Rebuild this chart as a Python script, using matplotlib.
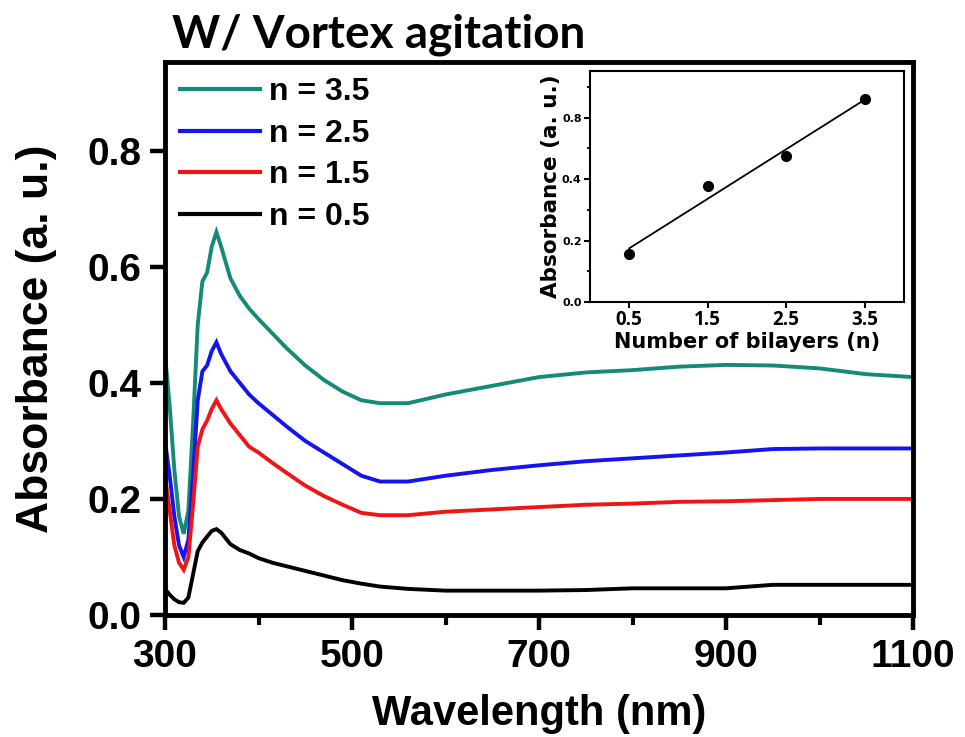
import numpy as np
import matplotlib
matplotlib.use("Agg")
import matplotlib.pyplot as plt
from matplotlib.ticker import MultipleLocator, FixedLocator

# ---------------- data ----------------
wavelength = [300, 305, 310, 315, 320, 325, 330, 335, 340, 345, 350, 355, 360, 370, 380,
              390, 400, 415, 430, 450, 470, 490, 510, 530, 560, 600, 650, 700, 750, 800,
              850, 900, 950, 1000, 1050, 1100]
abs_n35 = [0.45, 0.36, 0.25, 0.17, 0.14, 0.18, 0.33, 0.50, 0.575, 0.59, 0.635, 0.66, 0.635,
           0.58, 0.55, 0.528, 0.51, 0.485, 0.46, 0.43, 0.405, 0.385, 0.37, 0.365, 0.365,
           0.38, 0.395, 0.41, 0.418, 0.422, 0.428, 0.431, 0.43, 0.425, 0.415, 0.41]
abs_n25 = [0.30, 0.24, 0.17, 0.12, 0.10, 0.13, 0.24, 0.37, 0.42, 0.43, 0.455, 0.47, 0.45,
           0.42, 0.40, 0.38, 0.365, 0.345, 0.325, 0.30, 0.28, 0.26, 0.24, 0.23, 0.23,
           0.24, 0.25, 0.258, 0.265, 0.27, 0.275, 0.28, 0.286, 0.287, 0.287, 0.287]
abs_n15 = [0.24, 0.18, 0.12, 0.09, 0.078, 0.10, 0.19, 0.29, 0.32, 0.335, 0.355, 0.37, 0.355,
           0.33, 0.31, 0.29, 0.28, 0.262, 0.245, 0.223, 0.205, 0.19, 0.176, 0.172, 0.172,
           0.178, 0.182, 0.186, 0.19, 0.192, 0.195, 0.196, 0.198, 0.20, 0.20, 0.20]
abs_n05 = [0.045, 0.035, 0.027, 0.022, 0.021, 0.03, 0.07, 0.11, 0.125, 0.135, 0.145, 0.148,
           0.142, 0.122, 0.112, 0.106, 0.098, 0.09, 0.084, 0.076, 0.068, 0.06, 0.054, 0.049,
           0.045, 0.042, 0.042, 0.042, 0.043, 0.046, 0.046, 0.046, 0.052, 0.052, 0.052, 0.052]

series_labels = ["n = 3.5", "n = 2.5", "n = 1.5", "n = 0.5"]
series_colors = ["#168a78", "#1414f0", "#f01414", "#000000"]

inset_bilayers = [0.5, 1.5, 2.5, 3.5]
inset_absorbance = [0.155, 0.377, 0.475, 0.66]

main_xticks = [300, 500, 700, 900, 1100]
main_yticks = [0.0, 0.2, 0.4, 0.6, 0.8]
inset_xticks = [0.5, 1.5, 2.5, 3.5]
inset_yticks = [0.0, 0.2, 0.4, 0.6]
inset_yticklabels = ["0.0", "0.2", "0.4", "0.8"]

# ---------------- figure ----------------
W, H = 965, 737
fig = plt.figure(figsize=(W / 100, H / 100), dpi=100)
fig.patch.set_facecolor("white")

def fx(px):
    return px / W

def fy(py):
    return 1 - py / H

L, R, T, B = 165, 913, 62, 615
ax = fig.add_axes([fx(L), fy(B), fx(R) - fx(L), fy(T) - fy(B)])

ys = [abs_n35, abs_n25, abs_n15, abs_n05]
handles = []
for y, c, lab in zip(ys, series_colors, series_labels):
    h, = ax.plot(wavelength, y, color=c, lw=2.8, label=lab, solid_joinstyle="miter")
    handles.append(h)

ax.set_xlim(300, 1100)
ax.set_ylim(0, 0.953)
ax.xaxis.set_major_locator(FixedLocator(main_xticks))
ax.xaxis.set_minor_locator(MultipleLocator(100))
ax.yaxis.set_major_locator(FixedLocator(main_yticks))
ax.set_yticklabels([f"{v:.1f}" for v in main_yticks])

for lbl in ax.get_xticklabels() + ax.get_yticklabels():
    lbl.set_fontfamily("Liberation Sans")
    lbl.set_fontweight("bold")
    lbl.set_fontsize(28)

ax.tick_params(which="major", direction="out", length=11, width=3.2, pad=6)
ax.tick_params(which="minor", direction="out", length=7, width=3.0)
for s in ax.spines.values():
    s.set_linewidth(3.5)

ax.set_xlabel("Wavelength (nm)", fontfamily="Liberation Sans", fontweight="bold",
              fontsize=30, labelpad=14)
ax.set_ylabel("Absorbance (a. u.)", fontfamily="Liberation Sans", fontweight="bold",
              fontsize=32, labelpad=22)

leg = ax.legend(handles=handles, loc="upper left", bbox_to_anchor=(0.02, 0.972),
                frameon=False, borderpad=0, borderaxespad=0, handlelength=2.5,
                handletextpad=0.3, labelspacing=0.36,
                prop=dict(family="Liberation Sans", weight="bold", size=23))
for line in leg.get_lines():
    line.set_linewidth(3.0)

fig.text(fx(172), fy(47), "W/ Vortex agitation", fontfamily="Lato", fontweight="bold",
         fontsize=33, ha="left", va="baseline")

# ---------------- inset ----------------
iL, iR, iT, iB = 590, 904, 71, 302
axi = fig.add_axes([fx(iL), fy(iB), fx(iR) - fx(iL), fy(iT) - fy(iB)])
axi.plot(inset_bilayers, inset_absorbance, "o", color="black", ms=7)
coef = np.polyfit(inset_bilayers, inset_absorbance, 1)
xfit = np.array([inset_bilayers[0], inset_bilayers[-1]])
axi.plot(xfit, np.polyval(coef, xfit), color="black", lw=1.3)
axi.set_xlim(0, 4)
axi.set_ylim(0, 0.752)
axi.xaxis.set_major_locator(FixedLocator(inset_xticks))
axi.set_xticklabels([f"{v:.1f}" for v in inset_xticks], fontfamily="Open Sans",
                    fontweight="bold", fontsize=13.5)
axi.yaxis.set_major_locator(FixedLocator(inset_yticks))
axi.yaxis.set_minor_locator(FixedLocator([0.1, 0.3, 0.5, 0.7]))
axi.set_yticklabels(inset_yticklabels, fontfamily="DejaVu Sans", fontweight="bold",
                    fontsize=8)
axi.tick_params(which="major", direction="out", length=4, width=1.5, pad=2)
axi.tick_params(which="minor", direction="out", length=2.5, width=1.3)
for s in axi.spines.values():
    s.set_linewidth(1.5)
axi.set_xlabel("Number of bilayers (n)", fontfamily="DejaVu Sans", fontweight="bold",
               fontsize=15, labelpad=1)
axi.set_ylabel("Absorbance (a. u.)", fontfamily="DejaVu Sans", fontweight="bold",
               fontsize=15.5, labelpad=1)

fig.savefig("out.png", dpi=100, facecolor="white")
